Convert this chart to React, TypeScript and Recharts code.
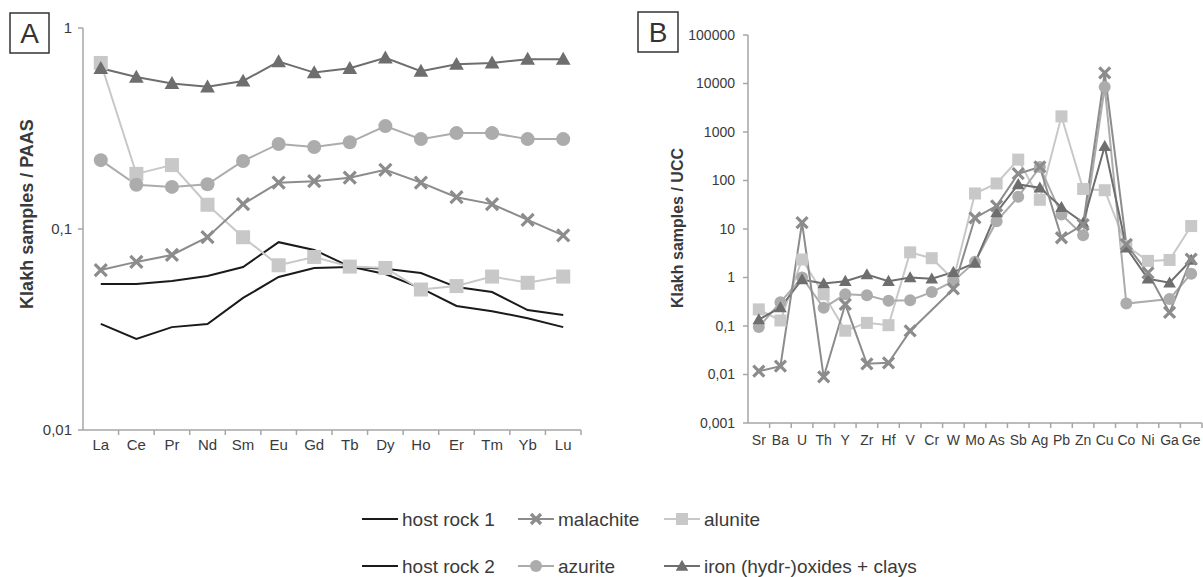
import React from 'react';
import { LineChart, Line, XAxis, YAxis } from 'recharts';

// ---- Panel A: REE normalised to PAAS ----
const reeElements = ['La', 'Ce', 'Pr', 'Nd', 'Sm', 'Eu', 'Gd', 'Tb', 'Dy', 'Ho', 'Er', 'Tm', 'Yb', 'Lu'];
const hostRock1Ree = [0.0532, 0.0532, 0.0551, 0.0584, 0.0647, 0.086, 0.0787, 0.065, 0.0597, 0.0508, 0.0414, 0.039, 0.036, 0.0325];
const hostRock2Ree = [0.0337, 0.0284, 0.0325, 0.0337, 0.0454, 0.0577, 0.064, 0.0647, 0.0634, 0.0604, 0.0514, 0.0486, 0.0395, 0.0373];
const malachiteRee = [0.0625, 0.0686, 0.0743, 0.091, 0.133, 0.17, 0.173, 0.18, 0.197, 0.17, 0.144, 0.133, 0.111, 0.093];
const aluniteRee = [0.67, 0.188, 0.208, 0.132, 0.091, 0.066, 0.0726, 0.065, 0.064, 0.05, 0.052, 0.058, 0.054, 0.058];
const azuriteRee = [0.22, 0.166, 0.162, 0.167, 0.218, 0.265, 0.256, 0.27, 0.325, 0.28, 0.3, 0.3, 0.28, 0.28];
const ironRee = [0.63, 0.57, 0.53, 0.51, 0.545, 0.68, 0.6, 0.63, 0.71, 0.61, 0.66, 0.67, 0.7, 0.7];
const reeTicks = [0.01, 0.1, 1];

// ---- Panel B: trace elements normalised to UCC ----
const traceElements = ['Sr', 'Ba', 'U', 'Th', 'Y', 'Zr', 'Hf', 'V', 'Cr', 'W', 'Mo', 'As', 'Sb', 'Ag', 'Pb', 'Zn', 'Cu', 'Co', 'Ni', 'Ga', 'Ge'];
const malachiteTrace = [0.0117, 0.0148, 13.6, 0.0089, 0.28, 0.0166, 0.0174, 0.079, null, 0.58, 17, 30, 138, 190, 6.6, 12.3, 16600, 4.8, 1.25, 0.19, 2.4];
const aluniteTrace = [0.22, 0.13, 2.35, 0.45, 0.08, 0.116, 0.104, 3.3, 2.5, 0.91, 54, 87, 270, 40, 2100, 67, 63, 4.5, 2.2, 2.3, 11.5];
const azuriteTrace = [0.095, 0.31, 1.0, 0.237, 0.45, 0.43, 0.33, 0.34, 0.5, 0.84, 2.1, 14.5, 46, 190, 20, 7.4, 8500, 0.29, null, 0.36, 1.2];
const ironTrace = [0.136, 0.24, 0.91, 0.75, 0.84, 1.15, 0.84, 1.0, 0.94, 1.29, 2.0, 22, 83, 71, 28, 13.5, 510, 4.1, 0.94, 0.78, 2.3];
const traceTicks = [0.001, 0.01, 0.1, 1, 10, 100, 1000, 10000, 100000];

const reeData = reeElements.map((el, i) => ({
  el,
  host1: hostRock1Ree[i],
  host2: hostRock2Ree[i],
  malachite: malachiteRee[i],
  alunite: aluniteRee[i],
  azurite: azuriteRee[i],
  iron: ironRee[i],
}));

const traceData = traceElements.map((el, i) => ({
  el,
  malachite: malachiteTrace[i],
  alunite: aluniteTrace[i],
  azurite: azuriteTrace[i],
  iron: ironTrace[i],
}));

const FONT = '"Liberation Sans", Arial, sans-serif';
const AXIS = '#a6a6a6';
const TEXT = '#3a3a3a';
const C_HOST = '#1a1a1a';
const C_IRON = '#6e6e6e';
const C_MAL = '#8c8c8c';
const C_AZU = '#acacac';
const C_ALU = '#c8c8c8';

const commaFmt = (v: number) => String(v).replace('.', ',');

type Kind = 'x' | 'square' | 'circle' | 'triangle';

function Marker({ cx, cy, kind, size, color }: { cx?: number; cy?: number; kind: Kind; size: number; color: string }) {
  if (cx == null || cy == null || !isFinite(cx) || !isFinite(cy)) return null;
  const h = size / 2;
  if (kind === 'x')
    return (
      <path
        d={`M${cx - h},${cy - h}L${cx + h},${cy + h}M${cx - h},${cy + h}L${cx + h},${cy - h}`}
        stroke={color}
        strokeWidth={3.2}
        fill="none"
      />
    );
  if (kind === 'square') return <rect x={cx - h} y={cy - h} width={size} height={size} fill={color} />;
  if (kind === 'circle') return <circle cx={cx} cy={cy} r={h} fill={color} />;
  return <path d={`M${cx},${cy - h * 1.05}L${cx + h * 1.05},${cy + h * 0.8}L${cx - h * 1.05},${cy + h * 0.8}Z`} fill={color} />;
}

const dotFor = (kind: Kind, size: number, color: string) => (p: any) =>
  <Marker key={`${kind}-${p.index}`} cx={p.cx} cy={p.cy} kind={kind} size={size} color={color} />;

// category label in the middle, tick mark between categories (spreadsheet style)
function CategoryTick(props: any) {
  const { x, y, payload, bandW, fs, labelDy } = props;
  return (
    <g>
      <line x1={x + bandW / 2} y1={y} x2={x + bandW / 2} y2={y + 5} stroke={AXIS} strokeWidth={1.5} />
      <text x={x} y={y + labelDy} textAnchor="middle" fontSize={fs} fill={TEXT} fontFamily={FONT}>
        {payload.value}
      </text>
    </g>
  );
}

function PanelA() {
  const bandW = (581 - 83) / reeElements.length;
  return (
    <LineChart width={600} height={460} data={reeData} margin={{ top: 28, right: 19, bottom: 0, left: 0 }}>
      <XAxis
        dataKey="el"
        interval={0}
        height={30}
        padding={{ left: bandW / 2, right: bandW / 2 }}
        tickSize={0}
        tickMargin={0}
        tickLine={false}
        axisLine={{ stroke: AXIS, strokeWidth: 1.5 }}
        tick={<CategoryTick bandW={bandW} fs={15} labelDy={20} />}
      />
      <XAxis xAxisId="frame" dataKey="el" orientation="top" height={0} tick={false} tickLine={false} axisLine={{ stroke: AXIS, strokeWidth: 1.5 }} />
      <YAxis
        scale="log"
        domain={[0.01, 1]}
        ticks={reeTicks}
        allowDataOverflow
        width={83}
        tickSize={5}
        tickMargin={6}
        tickLine={{ stroke: AXIS, strokeWidth: 1.5 }}
        axisLine={{ stroke: AXIS, strokeWidth: 1.5 }}
        tick={{ fontSize: 15, fill: TEXT, fontFamily: FONT }}
        tickFormatter={commaFmt}
      />
      <YAxis yAxisId="frame" orientation="right" width={0} tick={false} tickLine={false} axisLine={{ stroke: AXIS, strokeWidth: 1.5 }} />
      <Line dataKey="host1" stroke={C_HOST} strokeWidth={2} dot={false} isAnimationActive={false} />
      <Line dataKey="host2" stroke={C_HOST} strokeWidth={2} dot={false} isAnimationActive={false} />
      <Line dataKey="alunite" stroke={C_ALU} strokeWidth={2} dot={dotFor('square', 14, C_ALU)} isAnimationActive={false} />
      <Line dataKey="azurite" stroke={C_AZU} strokeWidth={2} dot={dotFor('circle', 14, C_AZU)} isAnimationActive={false} />
      <Line dataKey="malachite" stroke={C_MAL} strokeWidth={2} dot={dotFor('x', 12, C_MAL)} isAnimationActive={false} />
      <Line dataKey="iron" stroke={C_IRON} strokeWidth={2} dot={dotFor('triangle', 14, C_IRON)} isAnimationActive={false} />
    </LineChart>
  );
}

function PanelB() {
  const bandW = (1202 - 748) / traceElements.length;
  return (
    <LineChart width={583} height={460} data={traceData} margin={{ top: 35, right: 1, bottom: 0, left: 0 }}>
      <XAxis
        dataKey="el"
        interval={0}
        height={37}
        padding={{ left: bandW / 2, right: bandW / 2 }}
        tickSize={0}
        tickMargin={0}
        tickLine={false}
        axisLine={{ stroke: AXIS, strokeWidth: 1.5 }}
        tick={<CategoryTick bandW={bandW} fs={14} labelDy={22} />}
      />
      <XAxis xAxisId="frame" dataKey="el" orientation="top" height={0} tick={false} tickLine={false} axisLine={{ stroke: AXIS, strokeWidth: 1.5 }} />
      <YAxis
        scale="log"
        domain={[0.001, 100000]}
        ticks={traceTicks}
        allowDataOverflow
        width={128}
        tickSize={5}
        tickMargin={8}
        tickLine={{ stroke: AXIS, strokeWidth: 1.5 }}
        axisLine={{ stroke: AXIS, strokeWidth: 1.5 }}
        tick={{ fontSize: 14, fill: TEXT, fontFamily: FONT }}
        tickFormatter={commaFmt}
      />
      <YAxis yAxisId="frame" orientation="right" width={0} tick={false} tickLine={false} axisLine={{ stroke: AXIS, strokeWidth: 1.5 }} />
      <Line dataKey="alunite" stroke={C_ALU} strokeWidth={2} connectNulls dot={dotFor('square', 12, C_ALU)} isAnimationActive={false} />
      <Line dataKey="azurite" stroke={C_AZU} strokeWidth={2} connectNulls dot={dotFor('circle', 12, C_AZU)} isAnimationActive={false} />
      <Line dataKey="iron" stroke={C_IRON} strokeWidth={2} connectNulls dot={dotFor('triangle', 12, C_IRON)} isAnimationActive={false} />
      <Line dataKey="malachite" stroke={C_MAL} strokeWidth={2} connectNulls dot={dotFor('x', 11, C_MAL)} isAnimationActive={false} />
    </LineChart>
  );
}

function LegendItem({ x, y, label, color, kind }: { x: number; y: number; label: string; color: string; kind?: Kind }) {
  return (
    <g>
      <line x1={x} y1={y} x2={x + 36} y2={y} stroke={color} strokeWidth={2} />
      {kind && <Marker cx={x + 18} cy={y} kind={kind} size={kind === 'x' ? 10 : 12} color={color} />}
      <text x={x + 40} y={y + 7} fontSize={19} fill={TEXT} fontFamily={FONT}>
        {label}
      </text>
    </g>
  );
}

function Overlay() {
  return (
    <svg width={1203} height={577} style={{ position: 'absolute', left: 0, top: 0, pointerEvents: 'none' }}>
      <rect x={10} y={13} width={39} height={40} fill="#fff" stroke="#333" strokeWidth={1.5} />
      <text x={29.5} y={43} textAnchor="middle" fontSize={28} fill="#333" fontFamily={FONT}>A</text>
      <rect x={638} y={12} width={40} height={40} fill="#fff" stroke="#333" strokeWidth={1.5} />
      <text x={658} y={42} textAnchor="middle" fontSize={28} fill="#333" fontFamily={FONT}>B</text>

      <text transform="translate(33,214) rotate(-90)" textAnchor="middle" fontSize={18} fontWeight="bold" fill={TEXT} fontFamily={FONT}>
        Klakh samples / PAAS
      </text>
      <text transform="translate(683,228) rotate(-90)" textAnchor="middle" fontSize={16} fontWeight="bold" fill={TEXT} fontFamily={FONT}>
        Klakh samples / UCC
      </text>

      <LegendItem x={362} y={519} label="host rock 1" color={C_HOST} />
      <LegendItem x={518} y={519} label="malachite" color={C_MAL} kind="x" />
      <LegendItem x={664} y={519} label="alunite" color={C_ALU} kind="square" />
      <LegendItem x={362} y={566} label="host rock 2" color={C_HOST} />
      <LegendItem x={518} y={566} label="azurite" color={C_AZU} kind="circle" />
      <LegendItem x={664} y={566} label="iron (hydr-)oxides + clays" color={C_IRON} kind="triangle" />
    </svg>
  );
}

export default function App() {
  return (
    <div style={{ position: 'absolute', left: 0, top: 0, width: 1203, height: 577, background: '#fff', fontFamily: FONT }}>
      <div style={{ position: 'absolute', left: 0, top: 0 }}>
        <PanelA />
      </div>
      <div style={{ position: 'absolute', left: 620, top: 0 }}>
        <PanelB />
      </div>
      <Overlay />
    </div>
  );
}
